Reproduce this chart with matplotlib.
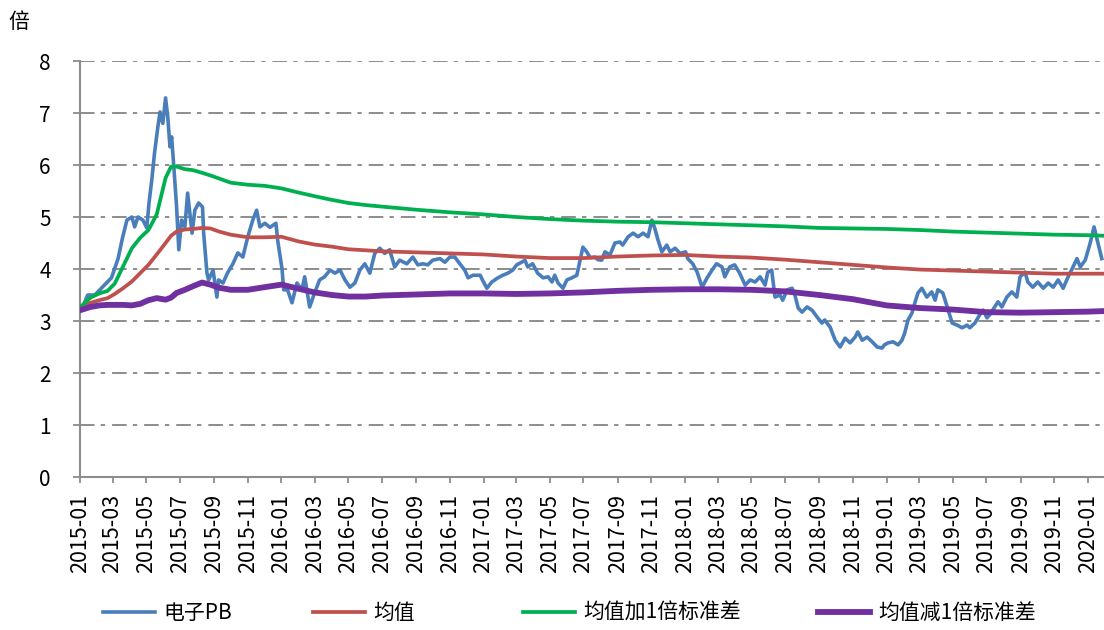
import pandas as pd
import matplotlib
matplotlib.use("Agg")
import matplotlib.pyplot as plt
import matplotlib.dates as mdates

plt.rcParams['font.family'] = ['Noto Sans CJK SC', 'DejaVu Sans']

# 电子PB
pb_dates = [
    "2015-01-05", "2015-01-15", "2015-01-28", "2015-02-15", "2015-02-27", "2015-03-11",
    "2015-03-19", "2015-03-27", "2015-04-05", "2015-04-10", "2015-04-16", "2015-04-25",
    "2015-05-02", "2015-05-06", "2015-05-11", "2015-05-16", "2015-05-22", "2015-05-26",
    "2015-05-31", "2015-06-05", "2015-06-09", "2015-06-13", "2015-06-16", "2015-06-20",
    "2015-06-25", "2015-06-29", "2015-07-04", "2015-07-10", "2015-07-15", "2015-07-19",
    "2015-07-23", "2015-07-28", "2015-08-04", "2015-08-11", "2015-08-13", "2015-08-19",
    "2015-08-22", "2015-08-30", "2015-09-06", "2015-09-09", "2015-09-17", "2015-09-26",
    "2015-10-05", "2015-10-14", "2015-10-23", "2015-11-01", "2015-11-10", "2015-11-17",
    "2015-11-23", "2015-12-02", "2015-12-11", "2015-12-22", "2015-12-25", "2016-01-02",
    "2016-01-05", "2016-01-12", "2016-01-20", "2016-01-29", "2016-02-07", "2016-02-12",
    "2016-02-21", "2016-03-01", "2016-03-10", "2016-03-19", "2016-03-29", "2016-04-07",
    "2016-04-16", "2016-04-25", "2016-05-04", "2016-05-13", "2016-05-22", "2016-05-31",
    "2016-06-09", "2016-06-18", "2016-06-27", "2016-07-06", "2016-07-15", "2016-07-24",
    "2016-08-02", "2016-08-15", "2016-08-26", "2016-09-04", "2016-09-13", "2016-09-22",
    "2016-10-01", "2016-10-14", "2016-10-23", "2016-11-01", "2016-11-10", "2016-11-19",
    "2016-11-28", "2016-12-04", "2016-12-13", "2016-12-26", "2016-12-30", "2017-01-07",
    "2017-01-16", "2017-01-27", "2017-02-05", "2017-02-14", "2017-02-23", "2017-03-02",
    "2017-03-11", "2017-03-17", "2017-03-22", "2017-03-31", "2017-04-09", "2017-04-19",
    "2017-04-28", "2017-05-05", "2017-05-10", "2017-05-16", "2017-05-25", "2017-06-01",
    "2017-06-10", "2017-06-19", "2017-06-25", "2017-06-30", "2017-07-07", "2017-07-13",
    "2017-07-22", "2017-07-27", "2017-08-03", "2017-08-09", "2017-08-18", "2017-08-27",
    "2017-09-05", "2017-09-10", "2017-09-20", "2017-09-29", "2017-10-08", "2017-10-17",
    "2017-10-26", "2017-11-02", "2017-11-07", "2017-11-13", "2017-11-20", "2017-11-29",
    "2017-12-05", "2017-12-14", "2017-12-23", "2018-01-02", "2018-01-06", "2018-01-15",
    "2018-01-23", "2018-02-01", "2018-02-10", "2018-02-19", "2018-02-27", "2018-03-09",
    "2018-03-14", "2018-03-23", "2018-04-01", "2018-04-10", "2018-04-20", "2018-04-29",
    "2018-05-08", "2018-05-17", "2018-05-26", "2018-05-31", "2018-06-07", "2018-06-13",
    "2018-06-22", "2018-06-27", "2018-07-05", "2018-07-14", "2018-07-19", "2018-07-25",
    "2018-08-01", "2018-08-10", "2018-08-19", "2018-08-28", "2018-09-06", "2018-09-11",
    "2018-09-21", "2018-09-30", "2018-10-09", "2018-10-18", "2018-10-27", "2018-11-05",
    "2018-11-10", "2018-11-18", "2018-11-27", "2018-12-06", "2018-12-15", "2018-12-24",
    "2018-12-28", "2019-01-04", "2019-01-13", "2019-01-22", "2019-01-29", "2019-02-03",
    "2019-02-09", "2019-02-16", "2019-02-22", "2019-02-27", "2019-03-06", "2019-03-15",
    "2019-03-24", "2019-03-30", "2019-04-04", "2019-04-13", "2019-04-21", "2019-04-30",
    "2019-05-09", "2019-05-18", "2019-05-27", "2019-06-01", "2019-06-10", "2019-06-19",
    "2019-06-25", "2019-07-02", "2019-07-07", "2019-07-16", "2019-07-22", "2019-07-29",
    "2019-08-07", "2019-08-16", "2019-08-25", "2019-08-31", "2019-09-09", "2019-09-14",
    "2019-09-23", "2019-10-02", "2019-10-12", "2019-10-21", "2019-10-30", "2019-11-08",
    "2019-11-17", "2019-11-26", "2019-12-05", "2019-12-12", "2019-12-18", "2019-12-27",
    "2020-01-05", "2020-01-12", "2020-01-19", "2020-01-26",
]
pb_values = [
    3.25, 3.50, 3.50, 3.70, 3.83, 4.20,
    4.60, 4.94, 5.00, 4.81, 5.00, 4.94,
    4.79, 5.27, 5.71, 6.23, 6.73, 7.02,
    6.80, 7.29, 6.92, 6.35, 6.54, 5.96,
    5.19, 4.37, 4.94, 4.81, 5.46, 5.08,
    4.69, 5.13, 5.27, 5.19, 4.69, 3.92,
    3.79, 3.98, 3.46, 3.79, 3.73, 3.94,
    4.10, 4.31, 4.23, 4.62, 4.94, 5.13,
    4.81, 4.88, 4.80, 4.88, 4.56, 4.00,
    3.60, 3.60, 3.35, 3.73, 3.60, 3.85,
    3.27, 3.54, 3.79, 3.85, 3.98, 3.92,
    3.98, 3.79, 3.65, 3.73, 3.98, 4.10,
    3.92, 4.30, 4.40, 4.30, 4.37, 4.04,
    4.17, 4.10, 4.23, 4.08, 4.10, 4.08,
    4.17, 4.20, 4.13, 4.23, 4.23, 4.10,
    3.98, 3.83, 3.88, 3.88, 3.79, 3.63,
    3.75, 3.83, 3.88, 3.92, 3.98, 4.08,
    4.13, 4.17, 4.04, 4.10, 3.92, 3.83,
    3.85, 3.75, 3.88, 3.73, 3.63, 3.79,
    3.83, 3.88, 4.17, 4.42, 4.33, 4.22,
    4.23, 4.18, 4.17, 4.33, 4.27, 4.50,
    4.52, 4.46, 4.62, 4.69, 4.62, 4.69,
    4.62, 4.94, 4.79, 4.56, 4.33, 4.46,
    4.33, 4.40, 4.30, 4.33, 4.20, 4.10,
    3.94, 3.65, 3.83, 3.98, 4.10, 4.04,
    3.85, 4.04, 4.08, 3.92, 3.69, 3.79,
    3.75, 3.85, 3.69, 3.94, 3.98, 3.46,
    3.50, 3.40, 3.60, 3.63, 3.50, 3.25,
    3.17, 3.27, 3.21, 3.08, 2.96, 3.02,
    2.88, 2.63, 2.50, 2.67, 2.58, 2.69,
    2.79, 2.63, 2.69, 2.60, 2.50, 2.48,
    2.54, 2.58, 2.60, 2.54, 2.63, 2.77,
    3.02, 3.15, 3.37, 3.54, 3.63, 3.46,
    3.56, 3.40, 3.60, 3.54, 3.27, 2.96,
    2.92, 2.87, 2.92, 2.87, 2.96, 3.12,
    3.21, 3.06, 3.12, 3.27, 3.37, 3.27,
    3.46, 3.56, 3.46, 3.85, 3.94, 3.75,
    3.65, 3.75, 3.63, 3.73, 3.65, 3.79,
    3.63, 3.85, 4.04, 4.20, 4.04, 4.17,
    4.50, 4.81, 4.50, 4.20,
]

# 均值 / 均值±1倍标准差
band_dates = [
    "2015-01-05", "2015-01-20", "2015-02-05", "2015-02-20", "2015-03-05", "2015-03-20",
    "2015-04-05", "2015-04-20", "2015-05-05", "2015-05-20", "2015-06-05", "2015-06-15",
    "2015-06-25", "2015-07-10", "2015-07-25", "2015-08-10", "2015-08-25", "2015-09-10",
    "2015-10-01", "2015-11-01", "2015-12-01", "2016-01-01", "2016-02-01", "2016-03-01",
    "2016-04-01", "2016-05-01", "2016-06-01", "2016-07-01", "2016-09-01", "2016-11-01",
    "2017-01-01", "2017-03-01", "2017-05-01", "2017-07-01", "2017-09-01", "2017-11-01",
    "2018-01-01", "2018-03-01", "2018-05-01", "2018-07-01", "2018-09-01", "2018-11-01",
    "2019-01-01", "2019-03-01", "2019-05-01", "2019-07-01", "2019-09-01", "2019-11-01",
    "2020-01-01", "2020-01-28",
]
mean_values = [
    3.27, 3.35, 3.40, 3.44, 3.52, 3.63,
    3.76, 3.92, 4.08, 4.28, 4.50, 4.64,
    4.72, 4.76, 4.77, 4.79, 4.78, 4.72,
    4.66, 4.61, 4.61, 4.62, 4.53, 4.47,
    4.43, 4.38, 4.36, 4.34, 4.32, 4.30,
    4.28, 4.24, 4.21, 4.21, 4.24, 4.26,
    4.27, 4.24, 4.22, 4.18, 4.13, 4.08,
    4.03, 3.99, 3.97, 3.95, 3.93, 3.91,
    3.91, 3.91,
]
upper_values = [
    3.30, 3.45, 3.53, 3.58, 3.72, 4.05,
    4.40, 4.60, 4.75, 5.05, 5.75, 5.97,
    5.97, 5.92, 5.90, 5.85, 5.80, 5.74,
    5.66, 5.62, 5.60, 5.55, 5.47, 5.40,
    5.33, 5.27, 5.23, 5.20, 5.14, 5.09,
    5.05, 5.00, 4.96, 4.93, 4.91, 4.90,
    4.88, 4.86, 4.84, 4.82, 4.79, 4.78,
    4.77, 4.75, 4.72, 4.70, 4.68, 4.66,
    4.65, 4.64,
]
lower_values = [
    3.22, 3.27, 3.30, 3.31, 3.31, 3.31,
    3.30, 3.33, 3.40, 3.44, 3.41, 3.45,
    3.54, 3.60, 3.67, 3.74, 3.70, 3.64,
    3.60, 3.60, 3.65, 3.70, 3.62, 3.55,
    3.50, 3.47, 3.47, 3.49, 3.51, 3.53,
    3.53, 3.52, 3.53, 3.55, 3.58, 3.60,
    3.61, 3.61, 3.60, 3.57, 3.50, 3.42,
    3.30, 3.25, 3.22, 3.17, 3.16, 3.17,
    3.18, 3.19,
]

pb_x = pd.to_datetime(pb_dates)
band_x = pd.to_datetime(band_dates)

fig = plt.figure(figsize=(11.04, 6.30), dpi=100)
ax = fig.add_axes([80 / 1104, 1 - 477 / 630, 1 - 80 / 1104, (477 - 61) / 630])

l1, = ax.plot(pb_x, pb_values, color="#4a7ebb", lw=2.6, label="电子PB", zorder=3,
              solid_joinstyle="round")
l2, = ax.plot(band_x, mean_values, color="#c0504d", lw=2.7, label="均值", zorder=4)
l3, = ax.plot(band_x, upper_values, color="#00b050", lw=2.7, label="均值加1倍标准差", zorder=4)
l4, = ax.plot(band_x, lower_values, color="#7030a0", lw=4.2, label="均值减1倍标准差", zorder=4)

ax.set_ylim(0, 8)
ax.set_yticks(range(0, 9))
ax.set_xlim(pd.Timestamp("2015-01-01"), pd.Timestamp("2020-01-30"))
ax.xaxis.set_major_locator(mdates.MonthLocator(bymonth=[1, 3, 5, 7, 9, 11]))
ax.xaxis.set_major_formatter(mdates.DateFormatter("%Y-%m"))

# 点划线网格
for y in range(1, 9):
    ax.axhline(y, color="#8c8c8c", lw=1.4, linestyle=(0, (7.5, 3.2, 2.2, 3.6)), zorder=1)

for side in ["top", "right"]:
    ax.spines[side].set_visible(False)
for side in ["left", "bottom"]:
    ax.spines[side].set_color("#8c8c8c")
    ax.spines[side].set_linewidth(1.5)

ax.tick_params(axis="y", length=5, width=1.3, color="#8c8c8c", pad=16, labelsize=15)
ax.tick_params(axis="x", length=4, width=1.3, color="#8c8c8c", pad=8, labelsize=15.5,
               labelrotation=90)

fig.text(0.008, 0.965, "倍", fontsize=15, va="center", ha="left")

# 图例：四项分开摆放
legend_x = [103, 313, 523, 818]
for h, x in zip([l1, l2, l3, l4], legend_x):
    fig.legend(handles=[h], loc="center left", bbox_to_anchor=(x / 1104, 1 - 613 / 630),
               frameon=False, fontsize=15, borderpad=0, borderaxespad=0,
               handlelength=2.5, handletextpad=0.4)

fig.savefig("out.png", dpi=100)
